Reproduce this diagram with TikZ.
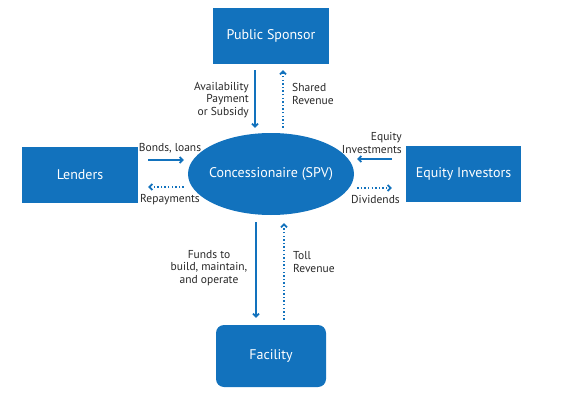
\documentclass[tikz,border=0pt]{standalone}
\usepackage{fontspec}
\setmainfont{PT Sans}
\usetikzlibrary{arrows.meta,shapes.geometric}
\definecolor{ppblue}{RGB}{18,114,189}
\definecolor{lbl}{RGB}{40,40,40}
\tikzset{
  party/.style={fill=ppblue, text=white, minimum width=116pt, minimum height=56pt, font=\fontsize{14}{16}\selectfont},
  money/.style={draw=ppblue, line width=1.8pt, -{Straight Barb[length=3pt,width=6pt]}},
  share/.style={money, dash pattern=on 1.4pt off 2.2pt},
  lbltext/.style={text=lbl, font=\fontsize{11.5}{12.5}\selectfont, inner sep=0pt}
}
\begin{document}
\begin{tikzpicture}[x=1pt,y=1pt]
        \useasboundingbox (0,0) rectangle (576,400);

        % Parties
        \node[party] (sponsor) at (271,364) {Public Sponsor};
        \node[party] (lenders) at (80,225.5) {Lenders};
        \node[party, minimum width=115pt] (investors) at (463.5,226) {Equity Investors};
        \node[party, minimum width=110pt, minimum height=62pt, rounded corners=8pt] (facility) at (271,44) {Facility};

        % SPV in the middle
        \node[ellipse, fill=ppblue, text=white, minimum width=166pt, minimum height=82pt, inner xsep=-6pt, inner ysep=0pt, font=\fontsize{14}{16}\selectfont] (spv) at (271,226) {Concessionaire (SPV)};

        % Sponsor <-> SPV
        \draw[money] ([xshift=-16pt,yshift=-6pt]sponsor.south) -- ([xshift=-16pt,yshift=5pt]spv.north);
        \draw[share] ([xshift=12pt,yshift=5pt]spv.north) -- ([xshift=12pt,yshift=-6pt]sponsor.south);
        \node[lbltext, align=right, anchor=east] (avail) at (249,300) {Availability\\Payment\\or Subsidy};
        \node[lbltext, align=left, anchor=west] (shared) at (292,306) {Shared\\Revenue};

        % Lenders <-> SPV
        \draw[money] ([xshift=10pt,yshift=14.5pt]lenders.east) -- ([xshift=-4pt,yshift=14pt]spv.west);
        \draw[share] ([xshift=-4pt,yshift=-13pt]spv.west) -- ([xshift=10pt,yshift=-12.5pt]lenders.east);
        \node[lbltext] (bonds) at (170,252) {Bonds, loans};
        \node[lbltext] (repay) at (170,200) {Repayments};

        % Investors <-> SPV
        \draw[money] ([xshift=-14pt,yshift=15pt]investors.west) -- ([xshift=3pt,yshift=15pt]spv.east);
        \draw[share] ([xshift=3pt,yshift=-14pt]spv.east) -- ([xshift=-14pt,yshift=-14pt]investors.west);
        \node[lbltext, align=right, anchor=east] (equity) at (402,257) {Equity\\Investments};
        \node[lbltext] (divs) at (375.5,201) {Dividends};

        % SPV <-> Facility
        \draw[money] ([xshift=-15pt,yshift=-7pt]spv.south) -- ([xshift=-15pt,yshift=7pt]facility.north);
        \draw[share] ([xshift=13pt,yshift=5pt]facility.north) -- ([xshift=13pt,yshift=-8pt]spv.south);
        \node[lbltext, align=center] (funds) at (209,132) {Funds to\\build, maintain,\\and operate};
        \node[lbltext, align=left, anchor=west] (toll) at (293,138) {Toll\\Revenue};
\end{tikzpicture}
\end{document}
